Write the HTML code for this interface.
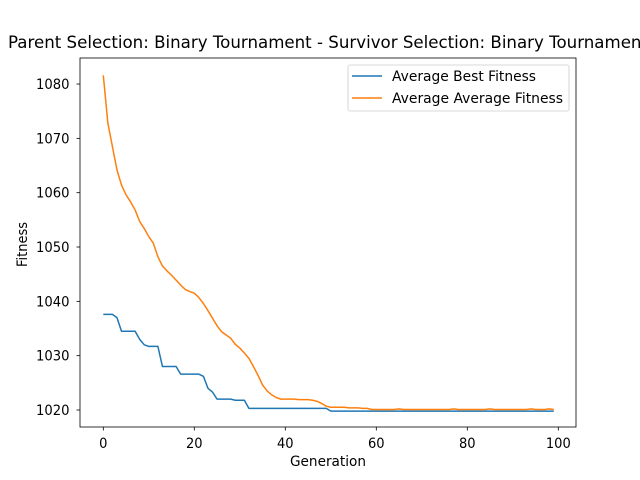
<!DOCTYPE html>
<html><head><meta charset="utf-8"><style>
html,body{margin:0;padding:0;background:#fff;}
svg{display:block;font-family:"DejaVu Sans","Liberation Sans",sans-serif;}
</style></head><body>
<svg id="chart" width="640" height="480" viewBox="0 0 640 480">
<rect x="0" y="0" width="640" height="480" fill="#fff"/>
<text x="8" y="48" font-size="16.7" textLength="640" lengthAdjust="spacingAndGlyphs">Parent Selection: Binary Tournament - Survivor Selection: Binary Tournament</text>
<g id="plot"></g>
<rect x="80" y="58" width="496" height="369" fill="none" stroke="#000" stroke-width="0.8"/>
<text x="290" y="466" font-size="13.9" textLength="76" lengthAdjust="spacingAndGlyphs">Generation</text>
<text x="0" y="0" font-size="13.9" textLength="45" lengthAdjust="spacingAndGlyphs" transform="translate(27 267) rotate(-90)">Fitness</text>
<g>
<rect x="348" y="65" width="221" height="46" rx="2" fill="#fff" fill-opacity="0.8" stroke="#ccc" stroke-width="0.8"/>
<line x1="352" y1="76" x2="382" y2="76" stroke="#1f77b4" stroke-width="1.5"/>
<text x="392" y="81" font-size="13.9" textLength="144" lengthAdjust="spacingAndGlyphs">Average Best Fitness</text>
<line x1="352" y1="98" x2="382" y2="98" stroke="#ff7f0e" stroke-width="1.5"/>
<text x="392" y="103" font-size="13.9" textLength="171" lengthAdjust="spacingAndGlyphs">Average Average Fitness</text>
</g>
</svg>
<script>
const xTicks = [0, 20, 40, 60, 80, 100];
const yTicks = [1020, 1030, 1040, 1050, 1060, 1070, 1080];
const bestFitness = [
1037.6,1037.6,1037.6,1037.0,1034.5,1034.5,1034.5,1034.5,1033.0,1032.0,
1031.7,1031.7,1031.7,1028.0,1028.0,1028.0,1028.0,1026.6,1026.6,1026.6,
1026.6,1026.6,1026.2,1024.0,1023.3,1022.0,1022.0,1022.0,1022.0,1021.8,
1021.8,1021.8,1020.3,1020.3,1020.3,1020.3,1020.3,1020.3,1020.3,1020.3,
1020.3,1020.3,1020.3,1020.3,1020.3,1020.3,1020.3,1020.3,1020.3,1020.3,
1019.8,1019.8,1019.8,1019.8,1019.8,1019.8,1019.8,1019.8,1019.8,1019.8,
1019.8,1019.8,1019.8,1019.8,1019.8,1019.8,1019.8,1019.8,1019.8,1019.8,
1019.8,1019.8,1019.8,1019.8,1019.8,1019.8,1019.8,1019.8,1019.8,1019.8,
1019.8,1019.8,1019.8,1019.8,1019.8,1019.8,1019.8,1019.8,1019.8,1019.8,
1019.8,1019.8,1019.8,1019.8,1019.8,1019.8,1019.8,1019.8,1019.8,1019.8];
const avgFitness = [
1081.6,1072.8,1068.5,1064.2,1061.4,1059.6,1058.3,1056.8,1054.7,1053.4,
1051.9,1050.7,1048.2,1046.5,1045.6,1044.8,1043.9,1043.0,1042.2,1041.8,
1041.5,1040.7,1039.6,1038.3,1036.9,1035.5,1034.4,1033.8,1033.2,1032.1,
1031.4,1030.5,1029.5,1028.0,1026.4,1024.6,1023.5,1022.8,1022.3,1022.0,
1022.0,1022.0,1022.0,1021.9,1021.9,1021.9,1021.8,1021.6,1021.2,1020.7,
1020.5,1020.5,1020.5,1020.5,1020.4,1020.4,1020.4,1020.3,1020.3,1020.1,
1020.1,1020.1,1020.1,1020.1,1020.1,1020.2,1020.1,1020.1,1020.1,1020.1,
1020.1,1020.1,1020.1,1020.1,1020.1,1020.1,1020.1,1020.2,1020.1,1020.1,
1020.1,1020.1,1020.1,1020.1,1020.1,1020.2,1020.1,1020.1,1020.1,1020.1,
1020.1,1020.1,1020.1,1020.1,1020.2,1020.1,1020.1,1020.1,1020.2,1020.1];

const NS = "http://www.w3.org/2000/svg";
const plot = document.getElementById("plot");
function xScale(g){ return 103.3 + g * 4.55; }
function yScale(v){ return 410 - (v - 1020) * 5.433; }
function mk(tag, attrs){ const e = document.createElementNS(NS, tag); for (const k in attrs) e.setAttribute(k, attrs[k]); plot.appendChild(e); return e; }

xTicks.forEach(t => {
  const x = xScale(t);
  const l = mk("line", {x1:x, y1:427, x2:x, y2:430.5, stroke:"#000", "stroke-width":0.8});
  
  
  const len = String(t).length * 8.3;
  const tx = mk("text", {x:x - len/2, y:448, "font-size":13.9, textLength:len, lengthAdjust:"spacingAndGlyphs"});
  tx.textContent = t;
  
  
});
yTicks.forEach(t => {
  const y = yScale(t);
  const l = mk("line", {x1:76.5, y1:y, x2:80, y2:y, stroke:"#000", "stroke-width":0.8});
  
  
  const tx = mk("text", {x:36, y:y+5, "font-size":13.9, textLength:33.5, lengthAdjust:"spacingAndGlyphs"});
  tx.textContent = t;
  
  
});
function series(vals, color, name){
  const d = vals.map((v,i) => (i ? "L" : "M") + xScale(i).toFixed(2) + "," + yScale(v).toFixed(2)).join(" ");
  const p = mk("path", {d:d, fill:"none", stroke:color, "stroke-width":1.5, "stroke-linejoin":"round"});
  
  
}
series(bestFitness, "#1f77b4", "best-fitness-line");
series(avgFitness, "#ff7f0e", "average-fitness-line");
</script>
</body></html>
